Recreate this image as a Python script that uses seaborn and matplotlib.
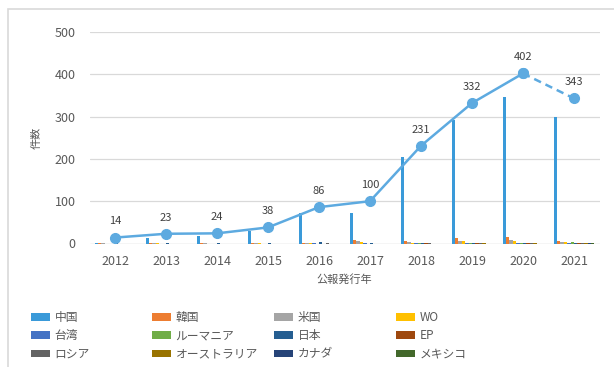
import numpy as np
import pandas as pd
import seaborn as sns
import matplotlib
matplotlib.use("Agg")
import matplotlib.pyplot as plt
from matplotlib.patches import Patch, Rectangle

# --- data -------------------------------------------------------------
years = ["2012", "2013", "2014", "2015", "2016", "2017", "2018", "2019", "2020", "2021"]
totals = [14, 23, 24, 38, 86, 100, 231, 332, 402, 343]

countries = ["中国", "韓国", "米国", "WO", "台湾", "ルーマニア",
             "日本", "EP", "ロシア", "オーストラリア", "カナダ", "メキシコ"]

china = [2, 13, 18, 30, 73, 71, 205, 292, 347, 300]
korea = [1, 2, 1, 1, 2, 9, 7, 12, 16, 5]
usa = [1, 1, 1, 1, 1, 5, 3, 6, 8, 4]
wo = [0, 1, 0, 1, 1, 3, 2, 6, 5, 4]
taiwan = [0, 0, 0, 0, 1, 1, 1, 2, 1, 2]
romania = [0, 0, 0, 0, 0, 0, 1, 1, 1, 3]
japan = [1, 1, 1, 1, 3, 1, 2, 2, 2, 2]
ep = [0, 0, 0, 0, 0, 0, 1, 1, 2, 1]
russia = [0, 0, 0, 0, 1, 0, 1, 1, 1, 1]
australia = [0, 0, 0, 0, 0, 0, 0, 1, 1, 1]
canada = [0, 0, 0, 0, 0, 0, 0, 0, 0, 1]
mexico = [0, 0, 0, 0, 0, 0, 0, 0, 0, 1]

series = [china, korea, usa, wo, taiwan, romania,
          japan, ep, russia, australia, canada, mexico]

colors = ["#3A9AD9", "#ED7D31", "#A5A5A5", "#FFC000", "#4472C4", "#70AD47",
          "#255E91", "#9E480E", "#636363", "#997300", "#264478", "#43682B"]

df = pd.DataFrame(
    [(y, c, v) for c, vals in zip(countries, series) for y, v in zip(years, vals)],
    columns=["year", "country", "count"],
)

# --- style ------------------------------------------------------------
sns.set_theme(style="white")
plt.rcParams["font.family"] = ["Noto Sans CJK JP", "DejaVu Sans"]
text_gray = "#595959"

W, H = 614, 367
fig = plt.figure(figsize=(W / 100, H / 100), dpi=100)
fig.patch.set_facecolor("white")

ax = fig.add_axes([89.5 / W, 1 - 243.5 / H, 510 / W, 211.5 / H])

sns.barplot(data=df, x="year", y="count", hue="country", order=years,
            hue_order=countries, palette=colors, width=0.8, saturation=1,
            errorbar=None, legend=False, ax=ax, linewidth=0)

# total line: solid through 2020, dashed to 2021
pos = np.arange(len(years))
line_color = "#5DAAE0"
ax.plot(pos[:-1], totals[:-1], color=line_color, lw=1.8, marker="o",
        markersize=7, zorder=5)
ax.plot(pos[-2:], totals[-2:], color=line_color, lw=1.8, ls=(0, (3, 2)),
        marker="o", markersize=7, zorder=5)

for p, t in zip(pos, totals):
    ax.annotate(str(t), (p, t), xytext=(0, 8), textcoords="offset points",
                ha="center", va="bottom", fontsize=8, color="#404040")

ax.set_xlim(-0.5, len(years) - 0.5)
ax.set_ylim(0, 500)
ax.set_yticks(range(0, 501, 100))
ax.yaxis.grid(True, color="#D9D9D9", lw=0.9)
ax.set_axisbelow(True)
for s in ax.spines.values():
    s.set_visible(False)
ax.axhline(0, color="#D9D9D9", lw=0.9, zorder=0)
ax.tick_params(axis="both", length=0, labelsize=9, labelcolor=text_gray)
ax.tick_params(axis="y", pad=10)
ax.tick_params(axis="x", pad=8)

ax.set_xlabel("公報発行年", fontsize=8, color=text_gray, labelpad=5)
ax.set_ylabel("件数", fontsize=8, color=text_gray, labelpad=9)

# legend in four evenly spaced columns
col_x = [31, 152, 274, 396]
for j, x in enumerate(col_x):
    idx = [j, j + 4, j + 8]
    handles = [Patch(facecolor=colors[i], edgecolor="none", label=countries[i]) for i in idx]
    leg = fig.legend(handles=handles, loc="upper left",
                     bbox_to_anchor=(x / W, 1 - 311 / H), frameon=False,
                     fontsize=8.5, handlelength=1.6, handleheight=0.6,
                     handletextpad=0.4, labelspacing=0.45, borderpad=0,
                     borderaxespad=0)
    for t in leg.get_texts():
        t.set_color(text_gray)

# chart frame
fig.patches.append(Rectangle((8 / W, -0.1), 2, 1 - 9 / H + 0.1, fill=False,
                             edgecolor="#D9D9D9", lw=1.2,
                             transform=fig.transFigure, figure=fig))

fig.savefig("out.png", dpi=100)
